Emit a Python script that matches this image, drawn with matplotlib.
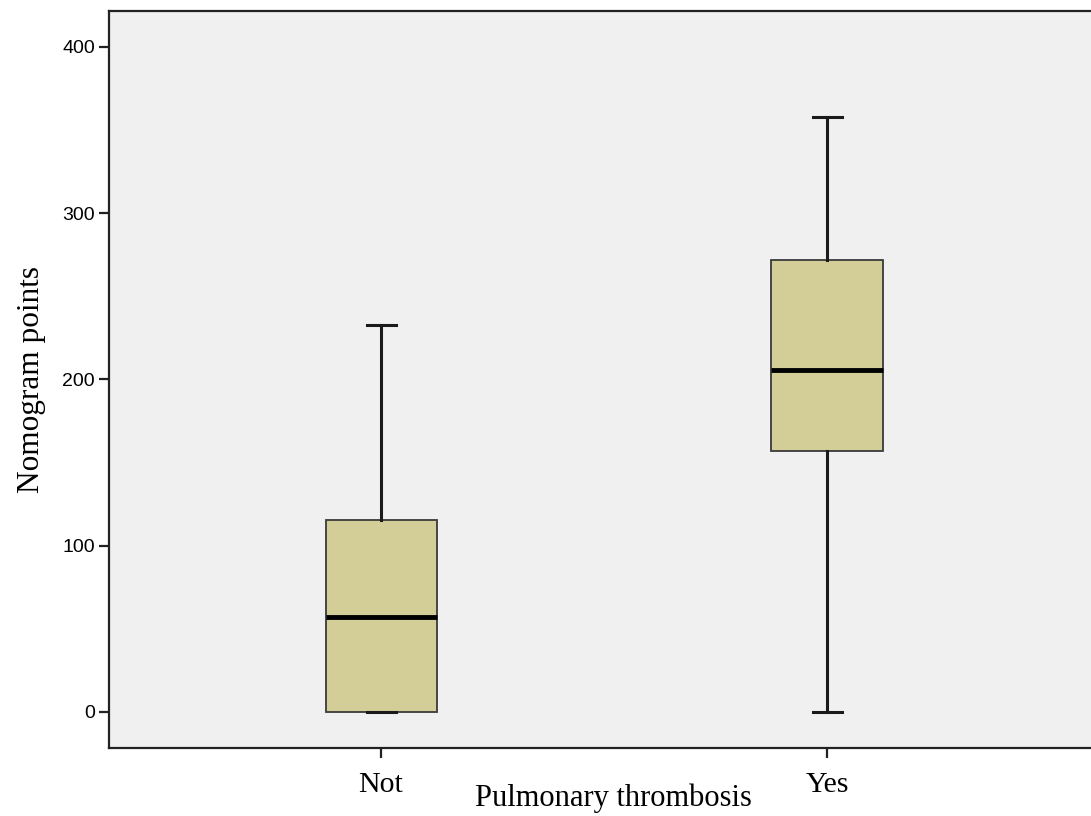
import matplotlib.pyplot as plt

# Données
groupes = ['Not', 'Yes']
minimum = [0.0, 0.0]
q1 = [0.0, 157.0]
mediane = [57.0, 205.7]
q3 = [115.5, 271.9]
maximum = [232.8, 357.9]

stats = []
for i, nom in enumerate(groupes):
    stats.append({'label': nom, 'whislo': minimum[i], 'q1': q1[i], 'med': mediane[i],
                  'q3': q3[i], 'whishi': maximum[i]})

fig = plt.figure(figsize=(10.91, 8.16), dpi=100)
ax = fig.add_axes([0.0999, 0.0833, 0.9075, 0.9032])
ax.set_facecolor('#F0F0F0')

ax.bxp(stats, positions=[1, 2], widths=0.249, patch_artist=True, showfliers=False,
       boxprops=dict(facecolor='#D3CE98', edgecolor='#3a3a3a', linewidth=1.3),
       medianprops=dict(color='black', linewidth=3.5),
       whiskerprops=dict(color='#1a1a1a', linewidth=2.2),
       capprops=dict(color='#1a1a1a', linewidth=2.2), capwidths=0.065)

ax.set_xlim(0.39, 2.61)
ax.set_ylim(-21.7, 421.6)
ax.set_yticks([0, 100, 200, 300, 400])
ax.set_xticks([1, 2])
ax.set_xticklabels(groupes, fontfamily='Liberation Serif', fontsize=21.5)
for lab in ax.get_yticklabels():
    lab.set_fontfamily('Liberation Sans')
    lab.set_fontsize(14)

for s in ['left', 'bottom', 'top', 'right']:
    ax.spines[s].set_linewidth(1.6)
    ax.spines[s].set_color('#222222')
ax.tick_params(axis='both', length=7, width=1.6, color='#222222')
ax.tick_params(axis='x', pad=10)
ax.tick_params(axis='y', pad=3)

ax.set_xlabel('Pulmonary thrombosis', fontfamily='Liberation Serif', fontsize=22, labelpad=-10)
ax.xaxis.label.set_x(0.509)
ax.set_ylabel('Nomogram points', fontfamily='Liberation Serif', fontsize=22.5, labelpad=12)

fig.savefig('out.png', dpi=100)
